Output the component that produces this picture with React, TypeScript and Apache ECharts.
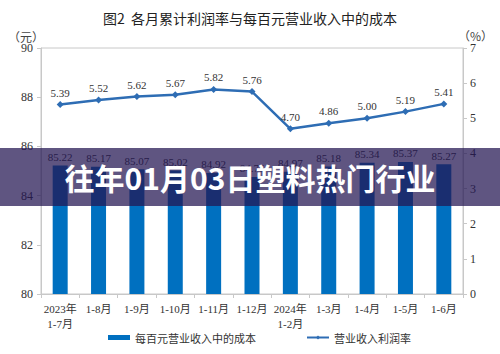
import React, { useEffect, useRef } from "react";
import * as echarts from "echarts";

const categories = ["2023年\n1-7月", "1-8月", "1-9月", "1-10月", "1-11月", "1-12月", "2024年\n1-2月", "1-3月", "1-4月", "1-5月", "1-6月"];
const costPer100 = [85.22, 85.17, 85.07, 85.02, 84.92, 84.76, 84.97, 85.18, 85.34, 85.37, 85.27];
const profitRate = [5.39, 5.52, 5.62, 5.67, 5.82, 5.76, 4.70, 4.86, 5.00, 5.19, 5.41];
const titleText = "图2  各月累计利润率与每百元营业收入中的成本";
const bannerText = "往年01月03日塑料热门行业";

const serif = "'Liberation Serif', 'Times New Roman', 'Noto Sans CJK SC', serif";

export default function App() {
  const ref = useRef<HTMLDivElement>(null);
  useEffect(() => {
    if (!ref.current) return;
    const chart = echarts.init(ref.current, null, { renderer: "svg" });
    chart.setOption({
      animation: false,
      backgroundColor: "#ffffff",
      grid: { left: 41, right: 37, top: 48, bottom: 60, show: true, borderColor: "#c8c8c8", borderWidth: 1 },
      legend: {
        left: 103,
        top: 327,
        itemWidth: 22,
        itemHeight: 5,
        itemGap: 50,
        textStyle: { fontFamily: "'Noto Sans CJK SC', serif", fontSize: 11, color: "#333" },
        data: [
          { name: "每百元营业收入中的成本", icon: "rect" },
          { name: "营业收入利润率" },
        ],
      },
      xAxis: {
        type: "category",
        data: categories,
        axisLine: { lineStyle: { color: "#c8c8c8" } },
        axisTick: { show: true, alignWithLabel: false, length: 4, lineStyle: { color: "#c8c8c8" } },
        axisLabel: { fontFamily: serif, fontSize: 11, color: "#333", lineHeight: 15, margin: 7, interval: 0 },
      },
      yAxis: [
        {
          type: "value",
          min: 80,
          max: 90,
          interval: 2,
          splitLine: { show: false },
          axisLine: { show: true, lineStyle: { color: "#c8c8c8" } },
          axisTick: { show: true, length: 4, lineStyle: { color: "#c8c8c8" } },
          axisLabel: { fontFamily: serif, fontSize: 12, color: "#333", margin: 8 },
        },
        {
          type: "value",
          min: 0,
          max: 7,
          interval: 1,
          splitLine: { show: false },
          axisLine: { show: true, lineStyle: { color: "#c8c8c8" } },
          axisTick: { show: true, length: 4, lineStyle: { color: "#c8c8c8" } },
          axisLabel: { fontFamily: serif, fontSize: 12, color: "#333", margin: 7 },
        },
      ],
      series: [
        {
          name: "每百元营业收入中的成本",
          type: "bar",
          data: costPer100,
          barWidth: 15,
          itemStyle: { color: "#0070c0" },
          label: {
            show: true,
            position: "top",
            distance: 3,
            fontFamily: serif,
            fontSize: 11,
            color: "#333",
            formatter: (p: any) => p.value.toFixed(2),
          },
        },
        {
          name: "营业收入利润率",
          type: "line",
          yAxisIndex: 1,
          data: profitRate,
          symbol: "diamond",
          symbolSize: 7,
          lineStyle: { color: "#2e6db4", width: 2.5 },
          itemStyle: { color: "#2e6db4" },
          label: {
            show: true,
            position: "top",
            distance: 3,
            fontFamily: serif,
            fontSize: 11,
            color: "#333",
            formatter: (p: any) => p.value.toFixed(2),
          },
        },
      ],
      graphic: [
        {
          type: "text",
          left: "center",
          top: 11,
          style: { text: titleText, font: "14px 'Noto Sans CJK SC', sans-serif", fill: "#222" },
        },
        {
          type: "text",
          x: 8,
          y: 30,
          style: { text: "（元）", font: "12px 'Noto Sans CJK SC', serif", fill: "#444" },
        },
        {
          type: "text",
          x: 458,
          y: 29,
          style: { text: "（%）", font: "12px 'Noto Sans CJK SC', serif", fill: "#444" },
        },
        {
          type: "rect",
          shape: { x: 0, y: 148, width: 500, height: 58 },
          style: { fill: "rgba(36,22,82,0.73)" },
          z: 100,
        },
        {
          type: "text",
          x: 250,
          y: 177,
          z: 101,
          style: {
            text: bannerText,
            font: "bold 30px 'Noto Sans CJK SC', sans-serif",
            fill: "#ffffff",
            align: "center",
            verticalAlign: "middle",
          },
        },
      ],
    });
    return () => chart.dispose();
  }, []);
  return <div ref={ref} style={{ position: "fixed", left: 0, top: 0, width: 500, height: 354 }} />;
}
